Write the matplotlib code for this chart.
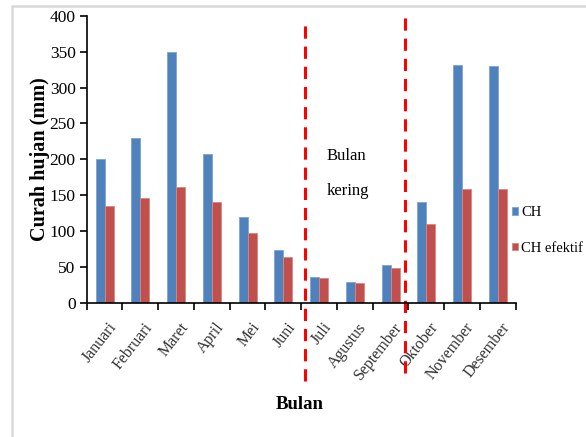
import matplotlib.pyplot as plt
import matplotlib.transforms as mtransforms
from matplotlib.patches import Rectangle
import numpy as np

months = ["Januari", "Februari", "Maret", "April", "Mei", "Juni", "Juli",
          "Agustus", "September", "Oktober", "November", "Desember"]
ch = [200, 230, 349, 208, 120, 73, 36, 29, 53, 140, 332, 330]
ch_efektif = [135, 146, 161, 140, 97, 64, 34, 27, 49, 110, 159, 159]
dry_bounds = [5.6, 8.4]

plt.rcParams["font.family"] = ["Liberation Serif", "DejaVu Serif"]

fig = plt.figure(figsize=(5.86, 4.37), dpi=100)
ax = fig.add_axes([0.148, 0.307, 0.732, 0.657])

# light grey frame around the chart area
fig.patches.append(Rectangle((0.021, -0.05), 1.2, 1.036, transform=fig.transFigure,
                             fill=False, edgecolor="#d9d9d9", linewidth=1.8))

x = np.arange(len(months))
w = 0.25
ax.bar(x - w / 2, ch, w, color="#4F81BD", edgecolor="#7ea3d3", linewidth=0.6, label="CH")
ax.bar(x + w / 2, ch_efektif, w, color="#C0504D", edgecolor="#d98683", linewidth=0.6,
       label="CH efektif")

ax.set_xlim(-0.5, len(months) - 0.5)
ax.set_ylim(0, 400)
ax.set_yticks(np.arange(0, 401, 50))
ax.tick_params(axis="y", direction="out", length=5, width=1.2, labelsize=12.5, pad=3)

# ticks sit between categories, labels at category centres
ax.set_xticks(np.arange(-0.5, len(months), 1))
ax.set_xticklabels([])
ax.tick_params(axis="x", which="major", direction="out", length=5, width=1.2)
ax.set_xticks(x, minor=True)
ax.set_xticklabels(months, minor=True, rotation=52, ha="right", va="top",
                   rotation_mode="anchor", fontsize=11.5, color="#333333")
ax.tick_params(axis="x", which="minor", length=0, pad=12)
offset = mtransforms.ScaledTranslation(0.03, 0, fig.dpi_scale_trans)
for lbl in ax.get_xticklabels(minor=True):
    lbl.set_transform(lbl.get_transform() + offset)

for side in ["top", "right"]:
    ax.spines[side].set_visible(False)
for side in ["left", "bottom"]:
    ax.spines[side].set_linewidth(1.2)

ax.set_ylabel("Curah hujan (mm)", fontsize=14.5, fontweight="bold", va="center")
ax.yaxis.set_label_coords(-0.108, 0.5)
ax.set_xlabel("Bulan", fontsize=13.5, fontweight="bold", va="center")
ax.xaxis.set_label_coords(0.497, -0.355)

# dry season markers
blend = mtransforms.blended_transform_factory(ax.transData, fig.transFigure)
for xb, top, bottom in zip(dry_bounds, [0.955, 0.97], [1 - 381 / 437, 1 - 373 / 437]):
    ax.plot([xb, xb], [bottom, top], transform=blend, color="red", linewidth=2.2,
            linestyle=(0, (4, 2.6)), clip_on=False)

ax.text(6.22, 205, "Bulan", fontsize=12, va="center", ha="left")
ax.text(6.22, 156, "kering", fontsize=12, va="center", ha="left")

ax.legend(loc="upper left", bbox_to_anchor=(512 / 586, 1 - 206 / 437),
          bbox_transform=fig.transFigure, frameon=False, fontsize=10.5,
          borderpad=0, borderaxespad=0, handlelength=0.42, handleheight=0.42,
          handletextpad=0.2, labelspacing=1.55)

fig.savefig("out.png", dpi=100)
